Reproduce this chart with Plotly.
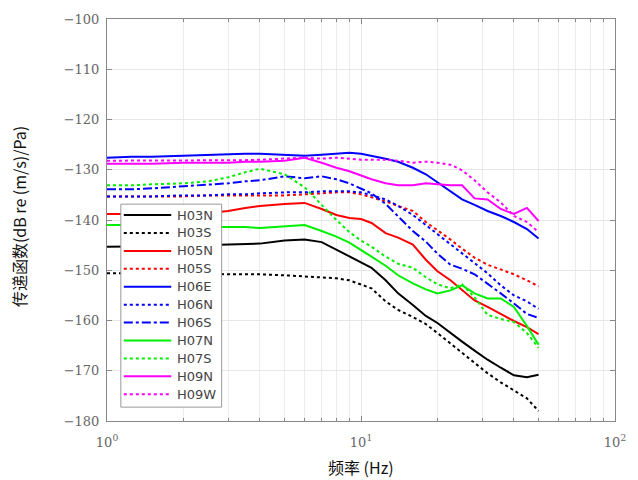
import plotly.graph_objects as go

freq = [1, 1.25, 1.5, 2, 2.5, 3, 3.5, 4, 5, 6, 7, 8, 9, 10, 11, 12.5, 14, 16, 18, 20,
        22.5, 25, 28, 31.5, 35.5, 40, 45, 50]

H03N = [-145.3, -145.3, -145.2, -145.1, -145.0, -144.9, -144.9, -144.7, -144.1, -143.9, -144.4, -145.9,
        -147.1, -148.3, -149.5, -152.0, -154.6, -156.9, -159.1, -160.5, -162.5, -164.2, -166.0, -167.8,
        -169.4, -170.9, -171.3, -170.8]
H03S = [-150.6, -150.6, -150.6, -150.6, -150.7, -150.8, -150.8, -150.8, -151.0, -151.2, -151.4, -151.6,
        -152.0, -152.8, -153.6, -156.2, -157.9, -159.3, -160.7, -162.5, -164.6, -166.4, -168.4, -170.5,
        -172.3, -173.9, -175.5, -178.0]
H05N = [-138.8, -138.8, -138.8, -138.8, -138.6, -138.2, -137.6, -137.2, -136.8, -136.6, -137.8, -139.0,
        -139.6, -139.8, -140.6, -142.6, -143.5, -144.9, -147.9, -150.2, -152.0, -154.0, -156.0, -157.3,
        -158.7, -160.1, -161.3, -162.7]
H05S = [-135.3, -135.3, -135.3, -135.3, -135.1, -135.1, -135.1, -135.1, -135.1, -134.9, -134.7, -134.5,
        -134.5, -134.9, -135.5, -136.3, -137.2, -138.2, -140.4, -142.0, -143.9, -145.7, -147.5, -148.9,
        -149.9, -150.8, -152.0, -153.2]
H06E = [-127.6, -127.4, -127.4, -127.2, -127.0, -126.8, -126.8, -126.8, -127.0, -127.2, -127.0, -126.8,
        -126.6, -126.8, -127.2, -127.8, -128.4, -129.6, -130.9, -132.5, -134.3, -135.9, -137.0, -138.2,
        -139.2, -140.4, -141.8, -143.7]
H06N = [-135.3, -135.3, -135.3, -135.1, -135.1, -134.9, -134.9, -134.7, -134.5, -134.5, -134.3, -134.3,
        -134.3, -134.5, -135.1, -135.9, -137.2, -139.0, -141.0, -142.8, -144.7, -146.5, -148.5, -150.6,
        -153.0, -155.0, -156.2, -157.7]
H06S = [-133.9, -133.9, -133.7, -133.3, -133.1, -132.7, -132.3, -132.1, -131.3, -131.7, -131.3, -131.9,
        -132.7, -133.7, -134.7, -136.8, -139.2, -142.2, -144.3, -146.7, -148.9, -149.7, -150.8, -152.6,
        -154.6, -156.6, -158.7, -159.5]
H07N = [-141.0, -141.0, -141.0, -141.2, -141.4, -141.4, -141.4, -141.6, -141.2, -141.0, -142.2, -143.3,
        -144.5, -145.9, -147.3, -149.1, -151.0, -152.6, -153.8, -154.6, -154.0, -153.0, -154.6, -155.6,
        -155.6, -157.3, -161.1, -164.8]
H07S = [-133.1, -133.1, -132.9, -132.7, -132.3, -131.5, -130.5, -129.8, -130.9, -133.5, -137.0, -140.0,
        -142.4, -144.1, -145.3, -147.3, -148.7, -149.5, -151.4, -152.8, -153.6, -152.8, -155.4, -158.9,
        -159.7, -160.3, -162.5, -165.4]
H09N = [-128.8, -128.8, -128.8, -128.6, -128.6, -128.6, -128.4, -128.4, -128.2, -127.6, -128.6, -129.6,
        -130.3, -131.1, -131.9, -132.7, -133.1, -133.1, -132.7, -132.9, -133.1, -133.1, -135.7, -135.9,
        -137.8, -138.8, -137.6, -140.2]
H09W = [-128.2, -128.2, -128.2, -128.2, -128.2, -128.2, -128.1, -128.0, -127.8, -127.6, -127.8, -127.6,
        -127.8, -128.0, -128.0, -128.0, -128.2, -128.6, -128.4, -128.6, -129.0, -130.1, -132.1, -134.5,
        -136.5, -139.2, -140.4, -142.4]

names = ["H03N", "H03S", "H05N", "H05S", "H06E", "H06N", "H06S", "H07N", "H07S", "H09N", "H09W"]
series = [H03N, H03S, H05N, H05S, H06E, H06N, H06S, H07N, H07S, H09N, H09W]
colors = ["#000000", "#000000", "#ff0000", "#ff0000", "#0000ff", "#0000ff", "#0000ff",
          "#00ee00", "#00ee00", "#ff00ff", "#ff00ff"]
dashes = ["solid", "dot", "solid", "dot", "solid", "dot", "dashdot", "solid", "dot", "solid", "dot"]

x_tickvals = [1, 10, 100]
x_ticktext = ["10<sup>0</sup>", "10<sup>1</sup>", "10<sup>2</sup>"]
y_tickvals = [-180, -170, -160, -150, -140, -130, -120, -110, -100]

fig = go.Figure()
for n, s, c, d in zip(names, series, colors, dashes):
    fig.add_trace(go.Scatter(x=freq, y=s, mode="lines", name=n, showlegend=False,
                             line=dict(color=c, width=2, dash=d)))

# plot area in pixels: left 107, right 621, top 15, bottom 421
PL, PR, PT, PB = 107, 621, 15, 421
def px(xp):
    return (xp - PL) / (PR - PL)
def py(yp):
    return (PB - yp) / (PB - PT)

# manual legend box (matches MATLAB-like legend)
fig.add_shape(type="rect", xref="paper", yref="paper",
              x0=px(121), x1=px(223), y0=py(407), y1=py(202),
              line=dict(color="#999999", width=1), fillcolor="white", layer="above")
for i, (n, c, d) in enumerate(zip(names, colors, dashes)):
    yrow = 213 + 18.1 * i
    fig.add_shape(type="line", xref="paper", yref="paper",
                  x0=px(124), x1=px(172), y0=py(yrow), y1=py(yrow),
                  line=dict(color=c, width=2, dash=d), layer="above")
    fig.add_annotation(text=n, xref="paper", yref="paper", x=px(176), y=py(yrow),
                       xanchor="left", yanchor="middle", showarrow=False,
                       font=dict(family="DejaVu Sans", size=13, color="#444444"))

tickfont = dict(family="DejaVu Serif", size=13, color="#666666")
fig.update_layout(
    width=638, height=480,
    margin=dict(l=PL, r=638 - PR, t=PT, b=480 - PB),
    paper_bgcolor="white", plot_bgcolor="white",
    showlegend=False,
    xaxis=dict(type="log", range=[0, 2], tickvals=x_tickvals, ticktext=x_ticktext,
               showgrid=True, gridcolor="#e6e6e6", gridwidth=1,
               minor=dict(dtick="D1", showgrid=True, gridcolor="#ececec", ticks="inside",
                          ticklen=3, tickcolor="#888888"),
               ticks="inside", ticklen=5, tickcolor="#888888",
               showline=True, linecolor="#888888", linewidth=1, mirror="ticks",
               tickfont=tickfont, zeroline=False, ticklabelstandoff=9),
    yaxis=dict(range=[-180, -100], tickvals=y_tickvals,
               showgrid=True, gridcolor="#e6e6e6", gridwidth=1,
               ticks="inside", ticklen=5, tickcolor="#888888",
               showline=True, linecolor="#888888", linewidth=1, mirror="ticks",
               tickfont=tickfont, zeroline=False, ticklabelstandoff=4),
)

fig.add_annotation(text="传递函数(dB re (m/s)/Pa)", xref="paper", yref="paper",
                   x=px(18), y=py(215), xanchor="center", yanchor="middle",
                   textangle=-90, showarrow=False,
                   font=dict(family="Noto Sans CJK SC", size=16, color="#111111"))
fig.add_annotation(text="频率 (Hz)", xref="paper", yref="paper",
                   x=px(364), y=py(467), xanchor="center", yanchor="middle", showarrow=False,
                   font=dict(family="Noto Sans CJK SC", size=16, color="#111111"))

fig.write_html("out.html", config={"displayModeBar": False},
               post_script="document.body.style.margin='0';document.body.style.overflow='hidden';")
